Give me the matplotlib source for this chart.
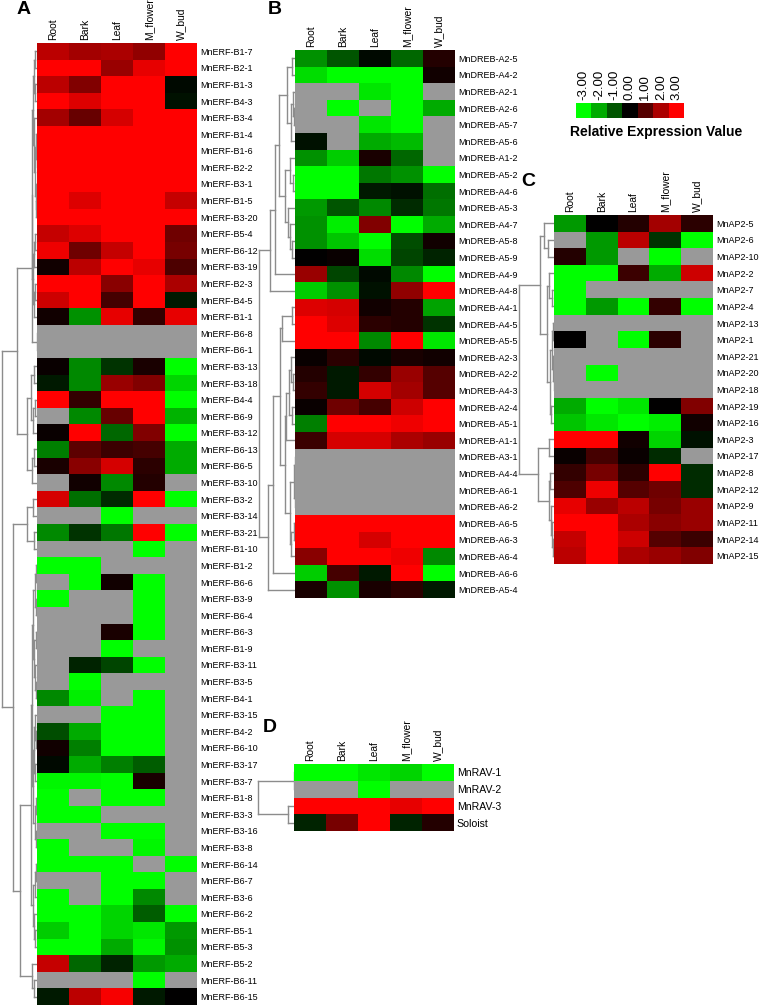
import numpy as np
import matplotlib
matplotlib.use("Agg")
from matplotlib import pyplot as plt
from matplotlib.colors import LinearSegmentedColormap

plt.rcParams['font.family'] = ['Liberation Sans', 'DejaVu Sans']

nan = np.nan
tissues = ["Root", "Bark", "Leaf", "M_flower", "W_bud"]

# ---- panel A : ERF ----
erf_genes = ["MnERF-B1-7", "MnERF-B2-1", "MnERF-B1-3", "MnERF-B4-3", "MnERF-B3-4", "MnERF-B1-4",
             "MnERF-B1-6", "MnERF-B2-2", "MnERF-B3-1", "MnERF-B1-5", "MnERF-B3-20", "MnERF-B5-4",
             "MnERF-B6-12", "MnERF-B3-19", "MnERF-B2-3", "MnERF-B4-5", "MnERF-B1-1", "MnERF-B6-8",
             "MnERF-B6-1", "MnERF-B3-13", "MnERF-B3-18", "MnERF-B4-4", "MnERF-B6-9", "MnERF-B3-12",
             "MnERF-B6-13", "MnERF-B6-5", "MnERF-B3-10", "MnERF-B3-2", "MnERF-B3-14", "MnERF-B3-21",
             "MnERF-B1-10", "MnERF-B1-2", "MnERF-B6-6", "MnERF-B3-9", "MnERF-B6-4", "MnERF-B6-3",
             "MnERF-B1-9", "MnERF-B3-11", "MnERF-B3-5", "MnERF-B4-1", "MnERF-B3-15", "MnERF-B4-2",
             "MnERF-B6-10", "MnERF-B3-17", "MnERF-B3-7", "MnERF-B1-8", "MnERF-B3-3", "MnERF-B3-16",
             "MnERF-B3-8", "MnERF-B6-14", "MnERF-B6-7", "MnERF-B3-6", "MnERF-B6-2", "MnERF-B5-1",
             "MnERF-B5-3", "MnERF-B5-2", "MnERF-B6-11", "MnERF-B6-15"]
erf_vals = [
    [2.2, 1.9, 2.0, 1.7, 3], [3, 3, 1.8, 2.7, 3], [2.2, 1.5, 3, 3, -0.1], [3, 2.6, 3, 3, -0.2],
    [1.9, 1.2, 2.5, 3, 3], [3, 3, 3, 3, 3], [3, 3, 3, 3, 3], [3, 3, 3, 3, 3], [3, 3, 3, 3, 3],
    [3, 2.6, 3, 3, 2.3], [3, 3, 3, 3, 3], [2.3, 2.6, 3, 3, 1.3], [2.8, 1.3, 2.3, 3, 1.4],
    [0.2, 2.2, 3, 2.7, 0.9], [3, 3, 1.6, 3, 2.0], [2.4, 3, 0.8, 3, -0.3], [0.2, -1.7, 2.7, 0.6, 2.7],
    [nan] * 5, [nan] * 5,
    [0.1, -1.6, -0.6, 0.3, -3], [-0.3, -1.6, 1.8, 1.5, -2.5], [3, 0.6, 3, 3, -3],
    [nan, -1.6, 1.2, 3, -2.1], [0.1, 3, -1.2, 1.5, -3], [-1.5, 1.1, 0.7, 0.8, -2.0],
    [0.3, 1.6, 2.5, 0.5, -2.0], [nan, 0.2, -1.6, 0.4, nan], [2.5, -1.3, -0.5, 3, -3],
    [nan, nan, -3, nan, nan], [-1.6, -0.6, -1.4, 3, -3], [nan, nan, nan, -3, nan],
    [-3, -3, nan, nan, nan], [nan, -3, 0.2, -3, nan], [-3, nan, nan, -3, nan],
    [nan, nan, nan, -3, nan], [nan, nan, 0.3, -3, nan], [nan, nan, -3, nan, nan],
    [nan, -0.4, -0.8, -3, nan], [nan, -3, nan, nan, nan], [-1.6, -2.8, nan, -3, nan],
    [nan, nan, -3, -3, nan], [-0.9, -2.0, -3, -3, nan], [0.2, -1.5, -3, -3, nan],
    [-0.1, -2.0, -1.5, -1.1, nan], [-2.9, -2.9, -3, 0.3, nan], [-3, nan, -3, -3, nan],
    [-3, -3, nan, nan, nan], [nan, nan, -3, -3, nan], [-3, nan, nan, -2.9, nan],
    [-3, -3, -3, nan, -3], [nan, nan, -3, -3, nan], [-3, nan, -3, -1.6, nan],
    [-3, -3, -2.5, -1.1, -3], [-2.4, -3, -2.5, -2.7, -1.8], [-3, -3, -2.0, -2.9, -1.7],
    [2.3, -1.2, -0.4, -1.8, -2.0], [nan, nan, nan, -3, nan], [-0.3, 2.2, 2.9, -0.3, 0.0],
]
# clustering trees: [left, right, merge height in px from heatmap edge]
erf_red_a = [[[0, 1, 2], [2, 3, 2.5], 3.5], [4, [[5, [6, 7, 0.5], 1], [8, [9, 10, 1], 1.5], 2], 3], 4]
erf_red_b = [[[11, 12, 2], 13, 3], [[14, 15, 2.5], 16, 3.5], 4.5]
erf_mid = [[[19, 20, 3], [[21, 22, 2], 23, 4], 6], [[24, 25, 3], 26, 5], 10]
erf_top = [[[erf_red_a, erf_red_b, 5], [17, 18, 0.5], 5.5], erf_mid, 20]
erf_n = [[27, 28, 4], [29, 30, 3], 10]
erf_g1 = [[[31, 32, 1], [33, 34, 1], 2], [[35, 36, 1], [37, [38, 39, 1], 2], 3], 4]
erf_g2 = [[[40, [41, 42, 1.5], 2.5], [43, 44, 2], 3.5], [[45, 46, 1], [47, 48, 1], 2], 4.5]
erf_g3 = [[[49, 50, 1.5], 51, 2.5], [52, [53, 54, 2], 3], 4]
erf_green = [[erf_g1, erf_g2, 5], erf_g3, 6]
erf_tail = [55, [56, 57, 3], 5]
erf_bottom = [erf_n, [erf_green, erf_tail, 17], 24]
erf_tree = [erf_top, erf_bottom, 35]

# ---- panel B : DREB ----
dreb_genes = ["MnDREB-A2-5", "MnDREB-A4-2", "MnDREB-A2-1", "MnDREB-A2-6", "MnDREB-A5-7", "MnDREB-A5-6",
              "MnDREB-A1-2", "MnDREB-A5-2", "MnDREB-A4-6", "MnDREB-A5-3", "MnDREB-A4-7", "MnDREB-A5-8",
              "MnDREB-A5-9", "MnDREB-A4-9", "MnDREB-A4-8", "MnDREB-A4-1", "MnDREB-A4-5", "MnDREB-A5-5",
              "MnDREB-A2-3", "MnDREB-A2-2", "MnDREB-A4-3", "MnDREB-A2-4", "MnDREB-A5-1", "MnDREB-A1-1",
              "MnDREB-A3-1", "MnDREB-A4-4", "MnDREB-A6-1", "MnDREB-A6-2", "MnDREB-A6-5", "MnDREB-A6-3",
              "MnDREB-A6-4", "MnDREB-A6-6", "MnDREB-A5-4"]
dreb_vals = [
    [-1.7, -1.0, -0.1, -1.2, 0.4], [-2.6, -3, -3, -3, 0.2], [nan, nan, -2.7, -3, nan],
    [nan, -3, nan, -3, -2.0], [nan, nan, -2.7, -3, nan], [-0.2, nan, -2.0, -2.2, nan],
    [-1.7, -2.4, 0.3, -1.2, nan], [-3, -3, -1.4, -1.7, -3], [-3, -3, -0.3, -0.2, -1.3],
    [-1.8, -1.0, -1.6, -0.5, -1.4], [-1.7, -2.8, 1.5, -3, -2.0], [-1.7, -2.3, -3, -0.9, 0.2],
    [0.0, 0.1, -2.6, -0.8, -0.4], [1.8, -0.8, -0.1, -1.6, -3], [-2.4, -1.7, -0.2, 1.7, 3],
    [2.6, 2.5, 0.2, 0.4, -1.9], [3, 2.6, 0.5, 0.4, -0.6], [3, 3, -1.6, 3, -2.7],
    [0.1, 0.5, -0.1, 0.3, 0.2], [0.4, -0.3, 0.6, 1.8, 1.0], [0.6, -0.3, 2.5, 1.9, 1.0],
    [0.1, 1.3, 0.8, 2.4, 3], [-1.5, 3, 3, 2.8, 3], [0.7, 2.5, 2.5, 2.0, 1.8],
    [nan] * 5, [nan] * 5, [nan] * 5, [nan] * 5,
    [3, 3, 3, 3, 3], [3, 3, 2.5, 3, 3], [1.6, 3, 3, 2.8, -1.6],
    [-2.4, 0.8, -0.3, 3, -3], [0.3, -1.7, 0.3, 0.5, -0.3],
]
dreb_a = [[0, 1, 3], [[2, [3, 4, 1], 2], 5, 4], 8]
dreb_b = [[6, [7, 8, 2], 5], [9, [10, [11, 12, 3], 5], 7], 10]
dreb_up = [[[dreb_a, dreb_b, 16], 13, 20], 14, 25]
dreb_c = [[15, 16, 3], 17, 13]
dreb_d = [[[18, [19, 20, 2], 4], [21, 22, 3], 6], 23, 9]
dreb_e = [[[24, 25, 0.5], [26, 27, 0.5], 1], [[28, 29, 1], 30, 4], 5]
dreb_low = [[[dreb_c, [dreb_d, dreb_e, 10], 15], 31, 22], 32, 27]
dreb_tree = [dreb_up, dreb_low, 36]

# ---- panel C : AP2 ----
ap2_genes = ["MnAP2-5", "MnAP2-6", "MnAP2-10", "MnAP2-2", "MnAP2-7", "MnAP2-4", "MnAP2-13", "MnAP2-1",
             "MnAP2-21", "MnAP2-20", "MnAP2-18", "MnAP2-19", "MnAP2-16", "MnAP2-3", "MnAP2-17",
             "MnAP2-8", "MnAP2-12", "MnAP2-9", "MnAP2-11", "MnAP2-14", "MnAP2-15"]
ap2_vals = [
    [-1.8, 0.0, 0.4, 1.9, 0.5], [nan, -1.8, 2.2, -0.6, -3], [0.4, -1.8, nan, -3, nan],
    [-3, -3, 0.7, -2.0, 2.4], [-3, nan, nan, nan, nan], [-3, -1.8, -3, 0.6, -3],
    [nan] * 5, [0.0, nan, -3, 0.5, nan], [nan] * 5, [nan, -3, nan, nan, nan], [nan] * 5,
    [-2.0, -3, -2.7, 0.0, 1.5], [-2.3, -2.7, -3, -2.8, 0.2], [3, 3, 0.2, -2.5, -0.2],
    [0.1, 0.8, 0.1, -0.5, nan], [0.6, 1.4, 0.5, 3, -0.5], [0.9, 2.8, 1.0, 1.3, -0.5],
    [2.7, 1.8, 2.2, 1.4, 1.8], [3, 3, 2.0, 1.6, 1.8], [2.3, 3, 2.4, 1.0, 0.7],
    [2.2, 3, 2.0, 1.8, 1.5],
]
ap2_up = [[0, [1, 2, 6], 10],
          [[3, [4, 5, 2], 5], [[[6, 7, 1], [8, [9, 10, 0.5], 1], 2], [11, 12, 3], 4], 7], 14]
ap2_low = [[13, 14, 5], [[15, 16, 4], [17, [18, [19, 20, 1], 2], 3], 5], 16]
ap2_tree = [ap2_up, ap2_low, 35]

# ---- panel D : RAV ----
rav_genes = ["MnRAV-1", "MnRAV-2", "MnRAV-3", "Soloist"]
rav_vals = [[-3, -3, -2.7, -2.5, -3], [nan, nan, -3, nan, nan],
            [3, 3, 3, 2.7, 3], [-0.4, 1.4, 3, -0.4, 0.4]]
rav_tree = [[0, 1, 0.5], [2, 3, 6], 36]

legend_vals = [-3, -2, -1, 0, 1, 2, 3]

W, H = 759, 1006
fig = plt.figure(figsize=(W / 100, H / 100), dpi=100)
cmap = LinearSegmentedColormap.from_list("gkr", ["#00ff00", "#000000", "#ff0000"])
cmap.set_bad("#999999")


def px_axes(x0, y0, x1, y1):
    return fig.add_axes([x0 / W, 1 - y1 / H, (x1 - x0) / W, (y1 - y0) / H])


def draw_tree(ax, node):
    if not isinstance(node, list):
        return node + 0.5, 0.0
    left, right, h = node
    y1, h1 = draw_tree(ax, left)
    y2, h2 = draw_tree(ax, right)
    ax.plot([h1, h], [y1, y1], color="#8c8c8c", lw=1)
    ax.plot([h2, h], [y2, y2], color="#8c8c8c", lw=1)
    ax.plot([h, h], [y1, y2], color="#8c8c8c", lw=1)
    return (y1 + y2) / 2, h


def panel(hx0, hy0, hx1, hy1, dx0, vals, genes, tree, letter, lx, ly, lab_size):
    data = np.ma.masked_invalid(np.array(vals, dtype=float))
    ax = px_axes(hx0, hy0, hx1, hy1)
    ax.pcolormesh(data, cmap=cmap, vmin=-3, vmax=3)
    ax.set_ylim(len(genes), 0)
    ax.set_xlim(0, len(tissues))
    ax.xaxis.tick_top()
    ax.set_xticks(np.arange(len(tissues)) + 0.5)
    ax.set_xticklabels(tissues, rotation=90, fontsize=7.4)
    ax.yaxis.tick_right()
    ax.set_yticks(np.arange(len(genes)) + 0.5)
    ax.set_yticklabels(genes, fontsize=lab_size)
    ax.tick_params(length=0, pad=2)
    for s in ax.spines.values():
        s.set_visible(False)

    dax = px_axes(dx0, hy0, hx0, hy1)
    draw_tree(dax, tree)
    dax.set_ylim(len(genes), 0)
    dax.set_xlim(hx0 - dx0, 0)
    dax.axis("off")
    fig.text(lx / W, 1 - ly / H, letter, fontsize=14, fontweight="bold", ha="center", va="center")


panel(37, 43, 197, 1005, 0, erf_vals, erf_genes, erf_tree, "A", 24, 10, 6.5)
panel(295, 50, 455, 598, 258, dreb_vals, dreb_genes, dreb_tree, "B", 275, 10, 6.5)
panel(554, 215, 713, 564, 518, ap2_vals, ap2_genes, ap2_tree, "C", 528, 182, 6.5)
panel(294, 764, 454, 831, 257, rav_vals, rav_genes, rav_tree, "D", 270, 728, 7.6)

# colour key
lax = px_axes(576, 103, 684, 118)
lax.imshow([legend_vals], cmap=cmap, vmin=-3, vmax=3, aspect="auto")
lax.xaxis.tick_top()
lax.set_xticks(range(len(legend_vals)))
lax.set_xticklabels(["%.2f" % v for v in legend_vals], rotation=90, fontsize=9.5)
lax.set_yticks([])
lax.tick_params(length=0, pad=2)
for s in lax.spines.values():
    s.set_visible(False)
fig.text(656 / W, 1 - 132 / H, "Relative Expression Value", fontsize=10, fontweight="bold",
         ha="center", va="center")

fig.savefig("out.png", dpi=100)
